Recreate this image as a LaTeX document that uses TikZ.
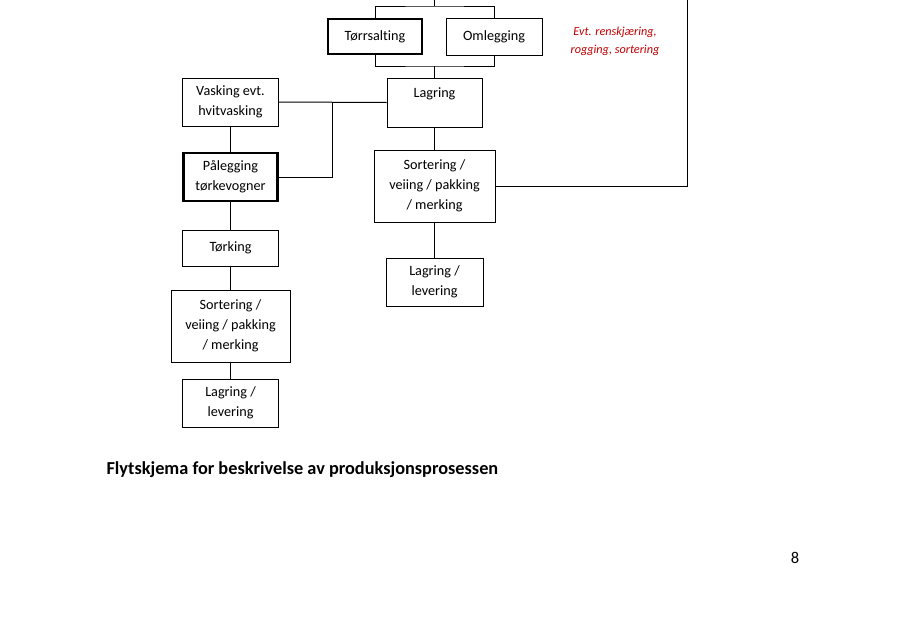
\documentclass[tikz,border=0pt]{standalone}
\usepackage{fontspec}
\setmainfont[Ligatures=NoCommon]{Carlito}
\definecolor{morkrod}{RGB}{192,0,0}

\begin{document}
\begin{tikzpicture}[x=1pt,y=-1pt,line width=1pt,
        boks/.style={draw,align=center,inner sep=0pt,font=\fontsize{14.2}{20}\selectfont},
        tykk/.style={line width=2.4pt}]
        \useasboundingbox (0,0) rectangle (904,640);
        % hoyre kolonne
        \node[boks,tykk,minimum width=94pt,minimum height=35pt] (torr) at (375,36.5) {Tørrsalting};
        \node[boks,minimum width=96pt,minimum height=37pt] (oml) at (494,36.5) {Omlegging};
        \node[boks,minimum width=95pt,minimum height=49pt] (lag1) at (434.5,102.5) {Lagring\\\mbox{}};
        \node[boks,minimum width=121pt,minimum height=72pt] (sort2) at (434.5,186) {Sortering /\\veiing / pakking\\/ merking};
        \node[boks,minimum width=97pt,minimum height=48pt] (lev2) at (434.5,282) {Lagring /\\levering};
        \node[align=center,text=morkrod,font=\itshape\fontsize{12.2}{17.5}\selectfont] (rens) at (615,41.5) {Evt. renskjæring,\\rogging, sortering};
        % venstre kolonne
        \node[boks,minimum width=96pt,minimum height=48pt] (vask) at (230.5,102) {Vasking evt.\\hvitvasking};
        \node[boks,tykk,minimum width=94pt,minimum height=48pt] (pal) at (230.5,177) {Pålegging\\tørkevogner};
        \node[boks,minimum width=96pt,minimum height=36pt] (tork) at (230.5,248) {Tørking};
        \node[boks,minimum width=119pt,minimum height=72pt] (sort1) at (230.5,326) {Sortering /\\veiing / pakking\\/ merking};
        \node[boks,minimum width=96pt,minimum height=48pt] (lev1) at (230.5,403) {Lagring /\\levering};
        % tekst under
        \node[anchor=west,inner sep=0pt,font=\bfseries\fontsize{18.3}{22}\selectfont] (tittel) at (106,470) {Flytskjema for beskrivelse av produksjonsprosessen};
        \node[font=\fontsize{16.5}{20}\selectfont] (side) at (795,558) {8};

        \coordinate (topp) at (434.5,0);
        \coordinate (delt) at (434.5,6);
        \coordinate (samle) at (434.5,66);
        \coordinate (knekk) at (332,102);
        \coordinate (hoyre) at (687,0);
        \draw (topp) -- (delt);
        \draw (torr.north) |- (delt) -| (oml.north);
        \draw (torr.south) |- (samle) -| (oml.south);
        \draw (samle) -- (lag1.north);
        \draw (lag1) -- (sort2);
        \draw (sort2) -- (lev2);
        \draw (sort2.east) -| (hoyre);
        \draw (vask.east) -- (lag1.west);
        \draw (pal.east) -| (knekk);
        \draw (vask) -- (pal);
        \draw (pal) -- (tork);
        \draw (tork) -- (sort1);
        \draw (sort1) -- (lev1);
\end{tikzpicture}
\end{document}
